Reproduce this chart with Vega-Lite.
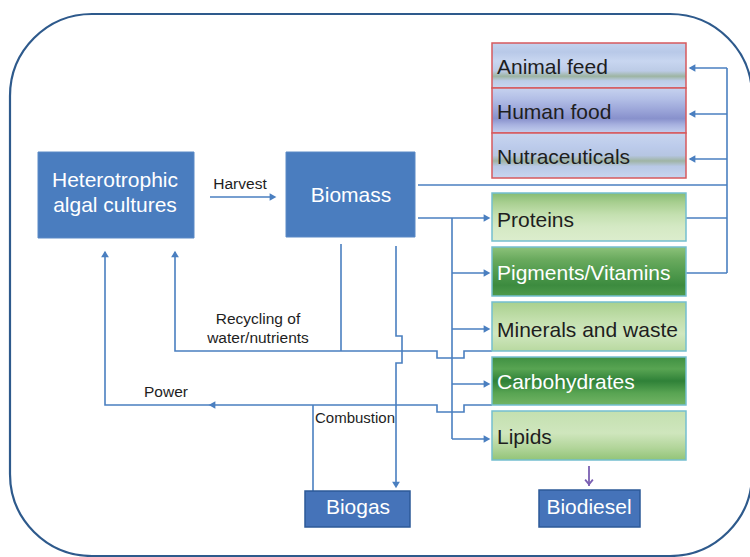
{
  "$schema": "https://vega.github.io/schema/vega-lite/v6.json",
  "width": 750,
  "height": 557,
  "padding": 0,
  "autosize": {"type": "none"},
  "background": "white",
  "config": {"view": {"stroke": null}, "text": {"font": "Liberation Sans"}},
  "datasets": {
    "frame": [{"x": 10, "x2": 752, "y": 14, "y2": 556}],
    "boxes": [
      {"name": "Heterotrophic", "x": 38, "x2": 194, "y": 152, "y2": 238},
      {"name": "Biomass", "x": 286, "x2": 415, "y": 152, "y2": 237},
      {"name": "Biogas", "x": 305, "x2": 410, "y": 491, "y2": 527},
      {"name": "Biodiesel", "x": 539, "x2": 640, "y": 490, "y2": 527},
      {"name": "Animal feed", "x": 492, "x2": 686, "y": 43, "y2": 88},
      {"name": "Human food", "x": 492, "x2": 686, "y": 88, "y2": 133},
      {"name": "Nutraceuticals", "x": 492, "x2": 686, "y": 133, "y2": 178},
      {"name": "Proteins", "x": 492, "x2": 686, "y": 193, "y2": 241},
      {"name": "Pigments/Vitamins", "x": 492, "x2": 686, "y": 247, "y2": 296},
      {"name": "Minerals and waste", "x": 492, "x2": 686, "y": 302, "y2": 351},
      {"name": "Carbohydrates", "x": 492, "x2": 686, "y": 357, "y2": 405},
      {"name": "Lipids", "x": 492, "x2": 686, "y": 411, "y2": 460}
    ],
    "paths": [
      {"p": "harvest", "o": 1, "x": 210, "y": 197}, {"p": "harvest", "o": 2, "x": 274, "y": 197},
      {"p": "top", "o": 1, "x": 418, "y": 185}, {"p": "top", "o": 2, "x": 727, "y": 185},
      {"p": "right", "o": 1, "x": 727, "y": 68}, {"p": "right", "o": 2, "x": 727, "y": 273},
      {"p": "af", "o": 1, "x": 690, "y": 68}, {"p": "af", "o": 2, "x": 727, "y": 68},
      {"p": "hf", "o": 1, "x": 690, "y": 114}, {"p": "hf", "o": 2, "x": 727, "y": 114},
      {"p": "nu", "o": 1, "x": 690, "y": 159}, {"p": "nu", "o": 2, "x": 727, "y": 159},
      {"p": "pr", "o": 1, "x": 686, "y": 218}, {"p": "pr", "o": 2, "x": 727, "y": 218},
      {"p": "pv", "o": 1, "x": 686, "y": 273}, {"p": "pv", "o": 2, "x": 727, "y": 273},
      {"p": "toprot", "o": 1, "x": 418, "y": 218}, {"p": "toprot", "o": 2, "x": 488, "y": 218},
      {"p": "branch", "o": 1, "x": 452, "y": 218}, {"p": "branch", "o": 2, "x": 452, "y": 439},
      {"p": "b1", "o": 1, "x": 452, "y": 273}, {"p": "b1", "o": 2, "x": 488, "y": 273},
      {"p": "b2", "o": 1, "x": 452, "y": 329}, {"p": "b2", "o": 2, "x": 488, "y": 329},
      {"p": "b3", "o": 1, "x": 452, "y": 384}, {"p": "b3", "o": 2, "x": 488, "y": 384},
      {"p": "b4", "o": 1, "x": 452, "y": 439}, {"p": "b4", "o": 2, "x": 488, "y": 439},
      {"p": "recyc", "o": 1, "x": 175, "y": 252}, {"p": "recyc", "o": 2, "x": 175, "y": 351},
      {"p": "recyc", "o": 3, "x": 437, "y": 351}, {"p": "recyc", "o": 4, "x": 437, "y": 358},
      {"p": "recyc", "o": 5, "x": 464, "y": 358}, {"p": "recyc", "o": 6, "x": 464, "y": 351},
      {"p": "recyc", "o": 7, "x": 492, "y": 351},
      {"p": "power", "o": 1, "x": 105, "y": 252}, {"p": "power", "o": 2, "x": 105, "y": 405},
      {"p": "power", "o": 3, "x": 437, "y": 405}, {"p": "power", "o": 4, "x": 437, "y": 412},
      {"p": "power", "o": 5, "x": 464, "y": 412}, {"p": "power", "o": 6, "x": 464, "y": 405},
      {"p": "power", "o": 7, "x": 492, "y": 405},
      {"p": "bmleft", "o": 1, "x": 341, "y": 244}, {"p": "bmleft", "o": 2, "x": 341, "y": 351},
      {"p": "bmright", "o": 1, "x": 396, "y": 246}, {"p": "bmright", "o": 2, "x": 396, "y": 336},
      {"p": "bmright", "o": 3, "x": 402, "y": 336}, {"p": "bmright", "o": 4, "x": 402, "y": 363},
      {"p": "bmright", "o": 5, "x": 396, "y": 363}, {"p": "bmright", "o": 6, "x": 396, "y": 484},
      {"p": "comb", "o": 1, "x": 313, "y": 405}, {"p": "comb", "o": 2, "x": 313, "y": 491}
    ],
    "arrows": [
      {"dir": "left", "x": 692, "y": 68},
      {"dir": "left", "x": 692, "y": 114},
      {"dir": "left", "x": 692, "y": 159},
      {"dir": "left", "x": 212, "y": 405},
      {"dir": "right", "x": 487, "y": 218},
      {"dir": "right", "x": 487, "y": 273},
      {"dir": "right", "x": 487, "y": 329},
      {"dir": "right", "x": 487, "y": 384},
      {"dir": "right", "x": 487, "y": 439},
      {"dir": "right", "x": 273, "y": 197},
      {"dir": "up", "x": 105, "y": 254},
      {"dir": "up", "x": 175, "y": 254},
      {"dir": "down", "x": 396, "y": 485}
    ],
    "purple": [{"p": "bd", "o": 1, "x": 589, "y": 466}, {"p": "bd", "o": 2, "x": 589, "y": 486}],
    "purplehead": [{"x": 589, "y": 482}],
    "centerWhite": [
      {"t": "Heterotrophic", "x": 115, "y": 187},
      {"t": "algal cultures", "x": 115, "y": 212},
      {"t": "Biomass", "x": 351, "y": 202},
      {"t": "Biogas", "x": 358, "y": 514},
      {"t": "Biodiesel", "x": 589, "y": 514}
    ],
    "leftWhite": [
      {"t": "Pigments/Vitamins", "x": 497, "y": 280},
      {"t": "Carbohydrates", "x": 497, "y": 389}
    ],
    "leftDark": [
      {"t": "Animal feed", "x": 497, "y": 74},
      {"t": "Human food", "x": 497, "y": 119},
      {"t": "Nutraceuticals", "x": 497, "y": 164},
      {"t": "Proteins", "x": 497, "y": 227},
      {"t": "Minerals and waste", "x": 497, "y": 337},
      {"t": "Lipids", "x": 497, "y": 444}
    ],
    "smallCenter": [
      {"t": "Harvest", "x": 240, "y": 189},
      {"t": "Recycling of", "x": 258, "y": 324},
      {"t": "water/nutrients", "x": 258, "y": 343},
      {"t": "Power", "x": 166, "y": 397}
    ],
    "smallLeft": [
      {"t": "Combustion", "x": 315, "y": 423}
    ]
  },
  "encoding": {
    "x": {"field": "x", "type": "quantitative", "scale": {"domain": [0, 750], "nice": false, "zero": false}, "axis": null},
    "y": {"field": "y", "type": "quantitative", "scale": {"domain": [0, 557], "nice": false, "zero": false, "reverse": true}, "axis": null}
  },
  "layer": [
    {
      "data": {"name": "frame"},
      "mark": {"type": "rect", "fill": null, "fillOpacity": 0, "stroke": "#2e5a8c", "strokeWidth": 2.2, "cornerRadius": 82},
      "encoding": {"x2": {"field": "x2"}, "y2": {"field": "y2"}}
    },
    {
      "data": {"name": "paths"},
      "mark": {"type": "line", "color": "#4a7fc0", "strokeWidth": 1.6, "interpolate": "linear"},
      "encoding": {"detail": {"field": "p"}, "order": {"field": "o", "type": "quantitative"}}
    },
    {
      "data": {"name": "boxes"},
      "transform": [{"filter": "indexof(['Heterotrophic','Biomass'], datum.name) >= 0"}],
      "mark": {"type": "rect", "fill": "#4a7dbf", "stroke": "#5a8ac6", "strokeWidth": 1},
      "encoding": {"x2": {"field": "x2"}, "y2": {"field": "y2"}}
    },
    {
      "data": {"name": "boxes"},
      "transform": [{"filter": "indexof(['Biogas','Biodiesel'], datum.name) >= 0"}],
      "mark": {"type": "rect", "fill": "#4573b9", "stroke": "#2d5a98", "strokeWidth": 1.5},
      "encoding": {"x2": {"field": "x2"}, "y2": {"field": "y2"}}
    },
    {
      "data": {"name": "boxes"},
      "transform": [{"filter": "datum.name === 'Animal feed'"}],
      "mark": {"type": "rect", "stroke": "#d65a5e", "strokeWidth": 1.5,
        "fill": {"gradient": "linear", "x1": 0, "y1": 0, "x2": 0, "y2": 1, "stops": [
          {"offset": 0, "color": "#c4d3ee"}, {"offset": 0.2, "color": "#b8c9e8"}, {"offset": 0.4, "color": "#c8d6f0"},
          {"offset": 0.62, "color": "#bccbe6"}, {"offset": 0.74, "color": "#9db5a2"}, {"offset": 0.84, "color": "#bccce8"}, {"offset": 1, "color": "#c8d6ef"}]}},
      "encoding": {"x2": {"field": "x2"}, "y2": {"field": "y2"}}
    },
    {
      "data": {"name": "boxes"},
      "transform": [{"filter": "datum.name === 'Human food'"}],
      "mark": {"type": "rect", "stroke": "#d65a5e", "strokeWidth": 1.5,
        "fill": {"gradient": "linear", "x1": 0, "y1": 0, "x2": 0, "y2": 1, "stops": [
          {"offset": 0, "color": "#c6d2ef"}, {"offset": 0.25, "color": "#b2bee6"}, {"offset": 0.5, "color": "#9aa4d8"},
          {"offset": 0.68, "color": "#8891cc"}, {"offset": 0.82, "color": "#a8b2e0"}, {"offset": 1, "color": "#c4d0ee"}]}},
      "encoding": {"x2": {"field": "x2"}, "y2": {"field": "y2"}}
    },
    {
      "data": {"name": "boxes"},
      "transform": [{"filter": "datum.name === 'Nutraceuticals'"}],
      "mark": {"type": "rect", "stroke": "#d65a5e", "strokeWidth": 1.5,
        "fill": {"gradient": "linear", "x1": 0, "y1": 0, "x2": 0, "y2": 1, "stops": [
          {"offset": 0, "color": "#c8d6ef"}, {"offset": 0.3, "color": "#bccbeb"}, {"offset": 0.5, "color": "#b6c6e2"},
          {"offset": 0.62, "color": "#9fb4a4"}, {"offset": 0.74, "color": "#b8c8e6"}, {"offset": 1, "color": "#c8d6ef"}]}},
      "encoding": {"x2": {"field": "x2"}, "y2": {"field": "y2"}}
    },
    {
      "data": {"name": "boxes"},
      "transform": [{"filter": "datum.name === 'Proteins'"}],
      "mark": {"type": "rect", "stroke": "#74bfcf", "strokeWidth": 1.5,
        "fill": {"gradient": "linear", "x1": 0, "y1": 0, "x2": 0, "y2": 1, "stops": [
          {"offset": 0, "color": "#86bc72"}, {"offset": 0.2, "color": "#a8cf90"}, {"offset": 0.45, "color": "#c4e0b0"},
          {"offset": 0.7, "color": "#d4e9c4"}, {"offset": 1, "color": "#dcedcd"}]}},
      "encoding": {"x2": {"field": "x2"}, "y2": {"field": "y2"}}
    },
    {
      "data": {"name": "boxes"},
      "transform": [{"filter": "datum.name === 'Pigments/Vitamins'"}],
      "mark": {"type": "rect", "stroke": "#74bfcf", "strokeWidth": 1.5,
        "fill": {"gradient": "linear", "x1": 0, "y1": 0, "x2": 0, "y2": 1, "stops": [
          {"offset": 0, "color": "#8cc27a"}, {"offset": 0.25, "color": "#6aaa5e"}, {"offset": 0.5, "color": "#539c4f"},
          {"offset": 0.78, "color": "#3c8b3f"}, {"offset": 1, "color": "#4f9a4c"}]}},
      "encoding": {"x2": {"field": "x2"}, "y2": {"field": "y2"}}
    },
    {
      "data": {"name": "boxes"},
      "transform": [{"filter": "datum.name === 'Minerals and waste'"}],
      "mark": {"type": "rect", "stroke": "#74bfcf", "strokeWidth": 1.5,
        "fill": {"gradient": "linear", "x1": 0, "y1": 0, "x2": 0, "y2": 1, "stops": [
          {"offset": 0, "color": "#a9d08e"}, {"offset": 0.35, "color": "#c2dfac"}, {"offset": 0.65, "color": "#d0e7bf"},
          {"offset": 1, "color": "#b8d9a0"}]}},
      "encoding": {"x2": {"field": "x2"}, "y2": {"field": "y2"}}
    },
    {
      "data": {"name": "boxes"},
      "transform": [{"filter": "datum.name === 'Carbohydrates'"}],
      "mark": {"type": "rect", "stroke": "#74bfcf", "strokeWidth": 1.5,
        "fill": {"gradient": "linear", "x1": 0, "y1": 0, "x2": 0, "y2": 1, "stops": [
          {"offset": 0, "color": "#3f9042"}, {"offset": 0.25, "color": "#58a452"}, {"offset": 0.5, "color": "#2f8138"},
          {"offset": 0.75, "color": "#58a452"}, {"offset": 1, "color": "#72b464"}]}},
      "encoding": {"x2": {"field": "x2"}, "y2": {"field": "y2"}}
    },
    {
      "data": {"name": "boxes"},
      "transform": [{"filter": "datum.name === 'Lipids'"}],
      "mark": {"type": "rect", "stroke": "#74bfcf", "strokeWidth": 1.5,
        "fill": {"gradient": "linear", "x1": 0, "y1": 0, "x2": 0, "y2": 1, "stops": [
          {"offset": 0, "color": "#c4e0b0"}, {"offset": 0.45, "color": "#cfe6bd"}, {"offset": 0.75, "color": "#b2d59a"},
          {"offset": 1, "color": "#92c478"}]}},
      "encoding": {"x2": {"field": "x2"}, "y2": {"field": "y2"}}
    },
    {
      "data": {"name": "arrows"},
      "mark": {"type": "point", "filled": true, "size": 60, "color": "#4a7fc0", "opacity": 1},
      "encoding": {
        "shape": {"field": "dir", "type": "nominal", "legend": null,
          "scale": {"domain": ["left", "right", "up", "down"], "range": ["triangle-left", "triangle-right", "triangle-up", "triangle-down"]}}
      }
    },
    {
      "data": {"name": "purple"},
      "mark": {"type": "line", "color": "#7a5fb2", "strokeWidth": 1.8},
      "encoding": {"detail": {"field": "p"}, "order": {"field": "o", "type": "quantitative"}}
    },
    {
      "data": {"name": "purplehead"},
      "mark": {"type": "point", "shape": "M-1,-0.6L0,0.6L1,-0.6", "filled": false, "size": 60, "color": "#7a5fb2", "strokeWidth": 1.8, "opacity": 1},
      "encoding": {}
    },
    {
      "data": {"name": "centerWhite"},
      "mark": {"type": "text", "align": "center", "baseline": "alphabetic", "fontSize": 21, "color": "white"},
      "encoding": {"text": {"field": "t"}}
    },
    {
      "data": {"name": "leftWhite"},
      "mark": {"type": "text", "align": "left", "baseline": "alphabetic", "fontSize": 21, "color": "white"},
      "encoding": {"text": {"field": "t"}}
    },
    {
      "data": {"name": "leftDark"},
      "mark": {"type": "text", "align": "left", "baseline": "alphabetic", "fontSize": 21, "color": "#1e1e1e"},
      "encoding": {"text": {"field": "t"}}
    },
    {
      "data": {"name": "smallCenter"},
      "mark": {"type": "text", "align": "center", "baseline": "alphabetic", "fontSize": 15.5, "color": "#1e1e1e"},
      "encoding": {"text": {"field": "t"}}
    },
    {
      "data": {"name": "smallLeft"},
      "mark": {"type": "text", "align": "left", "baseline": "alphabetic", "fontSize": 15, "color": "#1e1e1e"},
      "encoding": {"text": {"field": "t"}}
    }
  ]
}
